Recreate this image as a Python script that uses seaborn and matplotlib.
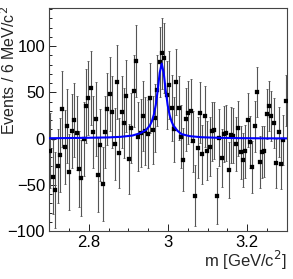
import numpy as np
import matplotlib
matplotlib.use('Agg')
import matplotlib.pyplot as plt
import seaborn as sns
from matplotlib.ticker import MultipleLocator

sns.set_theme(style="ticks")
plt.rcParams['font.family'] = ['Liberation Sans', 'DejaVu Sans']

# binning: 100 bins of 6 MeV from 2.7 to 3.3 GeV
x_min, x_max, bin_w = 2.7, 3.3, 0.006

# background-subtracted yields per bin
counts = [-13, -42, -56, -30, -18, 32, -9, 13, -36, 8,
          20, 6, -33, -43, 0, 35, 44, 55, 7, 21,
          -39, -7, -49, 7, 32, 48, 29, -6, 61, -16,
          29, 17, 46, -22, 11, 51, 84, 2, 6, 24,
          8, 5, 44, 9, 22, 52, 83, 92, 87, 47,
          58, 33, 10, 61, 33, 2, -23, 21, 28, 30,
          -3, -62, -10, 28, -17, 24, -13, -9, 8, 9,
          -62, 1, -21, 5, 6, -34, 4, 3, -6, 11,
          -15, -23, -14, 20, -4, -31, 13, 50, -25, -15,
          -14, 27, 35, 24, 17, -27, 7, -28, -2, 41]

errors = [41, 40, 41, 40, 40, 41, 40, 40, 41, 40,
          40, 40, 41, 41, 40, 40, 40, 40, 39, 40,
          40, 39, 40, 39, 39, 40, 39, 39, 40, 38,
          39, 38, 39, 38, 38, 39, 39, 37, 37, 38,
          37, 37, 38, 37, 37, 38, 38, 38, 38, 37,
          37, 36, 35, 36, 35, 34, 34, 34, 34, 34,
          33, 33, 33, 33, 32, 33, 32, 32, 32, 31,
          30, 31, 31, 30, 30, 30, 30, 30, 29, 30,
          29, 29, 29, 29, 28, 28, 28, 27, 28, 28,
          28, 27, 27, 27, 27, 27, 27, 27, 27, 28]

# fitted signal curve
curve_m = [2.70, 2.75, 2.80, 2.85, 2.88, 2.91, 2.93, 2.944, 2.954, 2.959,
           2.964, 2.969, 2.974, 2.979, 2.984, 2.989, 2.994, 2.999, 3.004, 3.009,
           3.014, 3.024, 3.034, 3.054, 3.084, 3.13, 3.18, 3.24, 3.30]
curve_y = [0.3, 0.5, 0.8, 1.2, 1.8, 3.2, 5.8, 9.0, 14.0, 18.5,
           25.5, 36.2, 52.3, 71.2, 81.0, 71.2, 52.3, 36.2, 25.4, 18.3,
           13.6, 8.3, 4.8, 2.6, 1.4, 0.7, 0.4, 0.2, 0.15]

mass = x_min + bin_w / 2 + bin_w * np.arange(len(counts))

fig = plt.figure(figsize=(2.93, 2.79), dpi=100)
ax = fig.add_axes([0.168, 0.172, 0.811, 0.799])

ax.errorbar(mass, counts, yerr=errors, fmt='none', ecolor='#555555',
            elinewidth=0.8, capsize=1.0, capthick=0.6, zorder=2)
sns.scatterplot(x=mass, y=counts, ax=ax, marker='s', s=5, color='black',
                edgecolor='black', linewidth=0.2, zorder=3)
sns.lineplot(x=curve_m, y=curve_y, ax=ax, color='#0000ff', linewidth=1.5,
             zorder=4)

ax.set_xlim(x_min, x_max)
ax.set_ylim(-100, 141)
ax.xaxis.set_major_locator(MultipleLocator(0.2))
ax.xaxis.set_minor_locator(MultipleLocator(0.05))
ax.yaxis.set_major_locator(MultipleLocator(50))
ax.yaxis.set_minor_locator(MultipleLocator(10))
ax.xaxis.set_major_formatter(plt.FuncFormatter(lambda v, p: f'{v:g}'))
ax.tick_params(which='both', direction='in', top=False, right=False,
               labelsize=12, colors='black', width=0.6)
ax.tick_params(which='major', length=5, pad=3)
ax.tick_params(which='minor', length=2.5)

for s in ax.spines.values():
    s.set_linewidth(0.8)
    s.set_color('#444444')

ax.set_xlabel('m [GeV/c$^{2}$]', loc='right', fontsize=12)
ax.set_ylabel('Events / 6 MeV/c$^{2}$', loc='top', fontsize=11.5)
ax.xaxis.set_label_coords(1.0, -0.08)
ax.yaxis.set_label_coords(-0.13, 1.01)
ax.xaxis.label.set_verticalalignment('top')

fig.savefig('out.png', dpi=100)
